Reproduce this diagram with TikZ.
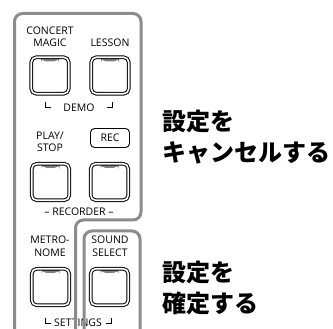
\documentclass[tikz,border=0pt]{standalone}
\usepackage{fontspec}
\setmainfont{Open Sans}
\newfontfamily\jpfont{Noto Sans CJK JP}
\begin{document}
\begin{tikzpicture}[x=1pt,y=-1pt,
  outline/.style={draw=black!45,line width=3pt,rounded corners=8pt},
  btn/.style={draw=black,double=white,double distance=1.6pt,line width=1pt,rounded corners=5pt,
    minimum width=37.5pt,minimum height=36.5pt,inner sep=0pt,
    path picture={\fill[black!50] ([xshift=-9pt,yshift=0pt]path picture bounding box.north) rectangle ([xshift=9pt,yshift=-4.2pt]path picture bounding box.north);}},
  lbl/.style={font=\fontsize{10.5}{12.5}\selectfont,align=center,inner sep=0pt},
  jp/.style={font=\jpfont\bfseries\fontsize{24}{31}\selectfont,align=left,anchor=west,inner sep=0pt},
  brk/.style={line width=0.5pt}]
\useasboundingbox (0,0) rectangle (333,329);
% labels
\node[lbl] (lcm) at (50,36.5) {CONCERT\\MAGIC};
\node[lbl] (lls) at (110,43) {LESSON};
\node[lbl] (ldemo) at (79,108) {DEMO};
\node[lbl] (lps) at (50,142) {PLAY/\\STOP};
\node[draw=black,line width=0.9pt,rounded corners=4pt,minimum width=39pt,minimum height=19pt,inner sep=0pt,font=\fontsize{10.5}{12.5}\selectfont] (rec) at (110,138) {REC};
\node[lbl] (lrec) at (79,212) {– RECORDER –};
\node[lbl] (lmet) at (50,246) {METRO-\\NOME};
\node[lbl] (lss) at (110,246) {SOUND\\SELECT};
\node[lbl] (lset) at (78,323) {SETTINGS};
% brackets
\draw[brk] (45.5,102.5) -- (45.5,107.5) -- (51,107.5);
\draw[brk] (107,107.5) -- (112.5,107.5) -- (112.5,102.5);
\draw[brk] (45.5,318) -- (45.5,323) -- (51,323);
\draw[brk] (105.5,323) -- (111,323) -- (111,318);
% buttons
\node[btn] (b1) at (50,75.5) {};
\node[btn] (b2) at (110,75.5) {};
\node[btn] (b3) at (50.5,182) {};
\node[btn] (b4) at (109.5,182) {};
\node[btn] (b5) at (50.5,287) {};
\node[btn] (b6) at (109.5,287) {};
% outlines
\draw[outline] (14.5,340) -- (14.5,13.5) -- (141,13.5) -- (141,220) -- (75.5,220) -- (75.5,340);
\draw[outline] (84,340) -- (84,231) -- (140,231) -- (140,340);
% japanese
\node[jp] (j1) at (162,137) {設定を\\キャンセルする};
\node[jp] (j2) at (162,287.5) {設定を\\確定する};
\end{tikzpicture}
\end{document}
